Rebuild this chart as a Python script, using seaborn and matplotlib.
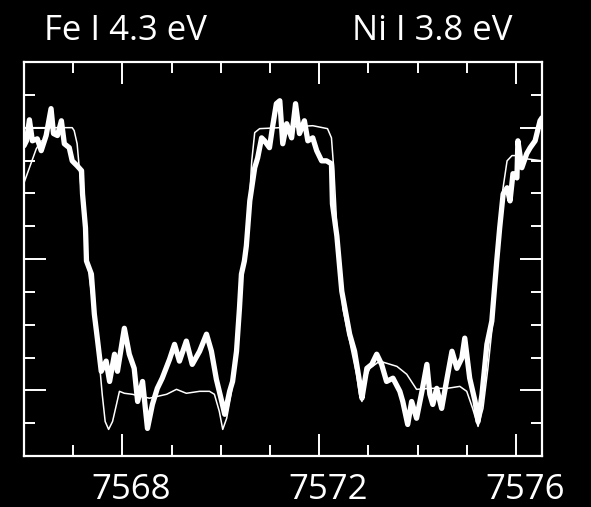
import numpy as np
import pandas as pd
import matplotlib
matplotlib.use("Agg")
import matplotlib.pyplot as plt
import seaborn as sns
from matplotlib.ticker import MultipleLocator, FixedLocator
from matplotlib.transforms import ScaledTranslation

# ---- data (wavelength in Angstrom, relative intensity) ----
obs_wave = [7566.00, 7566.05, 7566.11, 7566.17, 7566.27, 7566.35, 7566.45, 7566.55, 7566.60, 7566.68,
            7566.76, 7566.82, 7566.92, 7566.98, 7567.08, 7567.17, 7567.19, 7567.25, 7567.27, 7567.37,
            7567.43, 7567.49, 7567.57, 7567.67, 7567.74, 7567.84, 7567.90, 7568.04, 7568.14, 7568.24,
            7568.31, 7568.41, 7568.51, 7568.61, 7568.71, 7568.81, 7568.96, 7569.06, 7569.16, 7569.30,
            7569.42, 7569.57, 7569.71, 7569.81, 7569.91, 7570.02, 7570.08, 7570.18, 7570.24, 7570.32,
            7570.38, 7570.42, 7570.48, 7570.52, 7570.59, 7570.69, 7570.75, 7570.83, 7570.89, 7570.99,
            7571.05, 7571.13, 7571.20, 7571.26, 7571.34, 7571.44, 7571.52, 7571.60, 7571.70, 7571.77,
            7571.87, 7571.95, 7572.05, 7572.15, 7572.25, 7572.27, 7572.36, 7572.46, 7572.56, 7572.62,
            7572.72, 7572.82, 7572.87, 7572.97, 7573.07, 7573.17, 7573.27, 7573.37, 7573.50, 7573.64,
            7573.70, 7573.80, 7573.88, 7573.98, 7574.09, 7574.19, 7574.25, 7574.31, 7574.39, 7574.49,
            7574.60, 7574.70, 7574.80, 7574.90, 7574.96, 7575.06, 7575.17, 7575.23, 7575.31, 7575.41,
            7575.51, 7575.61, 7575.67, 7575.74, 7575.82, 7575.88, 7575.94, 7576.02, 7576.04, 7576.12,
            7576.22, 7576.29, 7576.39, 7576.49, 7576.53]
obs_flux = [0.945, 0.960, 1.024, 0.960, 0.966, 0.930, 0.976, 1.058, 0.982, 0.976,
            1.021, 0.951, 0.939, 0.899, 0.884, 0.869, 0.798, 0.695, 0.594, 0.554,
            0.432, 0.359, 0.258, 0.289, 0.227, 0.310, 0.258, 0.389, 0.310, 0.267,
            0.166, 0.227, 0.084, 0.157, 0.206, 0.237, 0.295, 0.340, 0.289, 0.350,
            0.279, 0.319, 0.371, 0.319, 0.234, 0.166, 0.127, 0.197, 0.227, 0.319,
            0.450, 0.554, 0.594, 0.640, 0.777, 0.878, 0.908, 0.969, 0.960, 0.939,
            1.000, 1.073, 1.082, 0.951, 1.012, 0.969, 1.073, 0.982, 1.021, 0.960,
            0.969, 0.930, 0.899, 0.899, 0.890, 0.768, 0.670, 0.502, 0.420, 0.371,
            0.319, 0.227, 0.176, 0.267, 0.279, 0.310, 0.279, 0.227, 0.237, 0.197,
            0.166, 0.096, 0.166, 0.115, 0.197, 0.279, 0.188, 0.157, 0.206, 0.145,
            0.237, 0.319, 0.267, 0.298, 0.359, 0.237, 0.166, 0.105, 0.188, 0.340,
            0.411, 0.594, 0.695, 0.798, 0.817, 0.777, 0.860, 0.847, 0.960, 0.878,
            0.921, 0.939, 0.960, 1.021, 1.030]

model_wave = [7566.00, 7566.98, 7567.02, 7567.08, 7567.23, 7567.33, 7567.47, 7567.53, 7567.59, 7567.65,
              7567.72, 7567.80, 7567.88, 7567.94, 7568.04, 7568.20, 7568.55, 7568.90, 7569.10, 7569.30,
              7569.57, 7569.77, 7569.87, 7569.97, 7570.04, 7570.12, 7570.22, 7570.32, 7570.38, 7570.44,
              7570.52, 7570.59, 7570.63, 7570.69, 7570.79, 7571.20, 7571.87, 7572.17, 7572.25, 7572.30,
              7572.36, 7572.42, 7572.48, 7572.62, 7572.76, 7572.82, 7572.87, 7572.89, 7573.03, 7573.23,
              7573.58, 7573.78, 7573.98, 7574.25, 7574.60, 7574.86, 7575.00, 7575.12, 7575.23, 7575.33,
              7575.43, 7575.53, 7575.61, 7575.72, 7575.82, 7575.92, 7576.02, 7576.22, 7576.53]
model_flux = [1.000, 1.000, 0.991, 0.951, 0.695, 0.542, 0.389, 0.289, 0.188, 0.105,
              0.081, 0.105, 0.157, 0.197, 0.191, 0.188, 0.176, 0.188, 0.203, 0.191,
              0.197, 0.197, 0.188, 0.136, 0.081, 0.115, 0.197, 0.298, 0.450, 0.573,
              0.655, 0.798, 0.899, 0.985, 0.997, 1.000, 1.006, 0.997, 0.969, 0.869,
              0.695, 0.594, 0.450, 0.350, 0.249, 0.188, 0.166, 0.218, 0.267, 0.289,
              0.273, 0.249, 0.203, 0.206, 0.206, 0.212, 0.197, 0.145, 0.090, 0.145,
              0.267, 0.411, 0.594, 0.798, 0.899, 0.915, 0.915, 0.905, 0.899]

edge_wave = [7566.00, 7566.25, 7566.35]
edge_flux = [0.832, 0.936, 0.960]

x_major = [7568, 7572, 7576]
x_labels = ["7568", "7572", "7576"]
line_labels = ["Fe I 4.3 eV", "Ni I 3.8 eV"]

# ---- figure ----
sns.set_style("white")
plt.rcParams['font.family'] = ['Open Sans', 'DejaVu Sans']

fig = plt.figure(figsize=(5.91, 5.07), dpi=100, facecolor="black")
ax = fig.add_axes([24/591, 51/507, 518/591, 394/507])
ax.set_facecolor("black")

obs = pd.DataFrame({"wave": obs_wave, "flux": obs_flux})
mod = pd.DataFrame({"wave": model_wave, "flux": model_flux})
edge = pd.DataFrame({"wave": edge_wave, "flux": edge_flux})

sns.lineplot(data=mod, x="wave", y="flux", ax=ax, color="white", lw=1.1,
             estimator=None, sort=False)
sns.lineplot(data=edge, x="wave", y="flux", ax=ax, color="white", lw=1.1,
             estimator=None, sort=False)
sns.lineplot(data=obs, x="wave", y="flux", ax=ax, color="white", lw=3.8,
             estimator=None, sort=False)

ax.set_xlim(7566.0, 7576.53)
ax.set_ylim(0.0, 1.2)
ax.set_xlabel("")
ax.set_ylabel("")

ax.xaxis.set_major_locator(FixedLocator(x_major))
ax.set_xticklabels(x_labels)
ax.xaxis.set_minor_locator(MultipleLocator(1))
ax.yaxis.set_major_locator(FixedLocator([0.2, 0.6, 1.0]))
ax.yaxis.set_minor_locator(MultipleLocator(0.1))

ax.tick_params(which="both", direction="in", colors="white", top=True, right=True,
               bottom=True, left=True, labelleft=False)
ax.tick_params(which="major", length=15.5, width=1.4, labelsize=25, pad=12,
               labelcolor="white")
ax.tick_params(which="minor", length=8, width=1.4)

for lab in ax.get_xticklabels():
    lab.set_transform(lab.get_transform() + ScaledTranslation(9/100, 0, fig.dpi_scale_trans))

for s in ax.spines.values():
    s.set_color("white")
    s.set_linewidth(1.6)
    s.set_visible(True)

fig.text(125/591, 1 - 40/507, line_labels[0], color="white", fontsize=25,
         ha="center", va="baseline")
fig.text(432/591, 1 - 40/507, line_labels[1], color="white", fontsize=25,
         ha="center", va="baseline")

fig.savefig("out.png", dpi=100, facecolor="black")
